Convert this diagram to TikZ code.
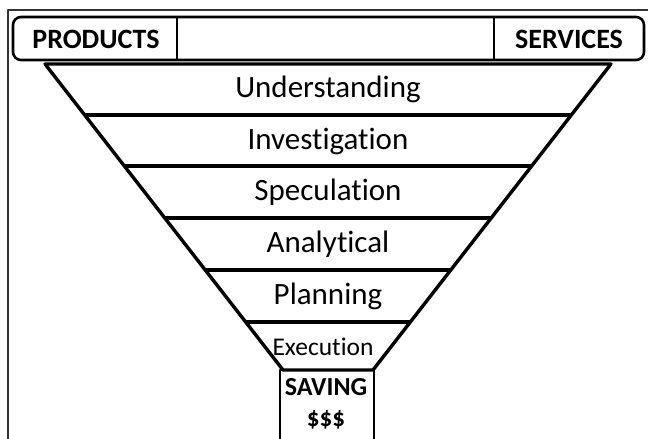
\documentclass[tikz,border=0pt]{standalone}
\usepackage{fontspec}
\setmainfont{Carlito}[Ligatures=NoCommon]
\usepackage{tikz}
\usetikzlibrary{calc}

\begin{document}
\begin{tikzpicture}[x=1pt, y=-1pt, line join=round, every node/.style={inner sep=0pt}, band/.style={line width=3.4pt}, bar/.style={draw,line width=2.6pt,rounded corners=8pt}, level/.style={font=\fontsize{31}{31}\selectfont}, small/.style={font=\fontsize{25.5}{25.5}\selectfont}, head/.style={font=\bfseries\fontsize{28}{28}\selectfont}]
\useasboundingbox (0,0) rectangle (648,439);
% frame on top and left
\draw[line width=1.3pt,black!80] (8,439) -- (8,10) -- (648,10);
% header bar
\draw[bar] (13,17) rectangle (644,60);
\coordinate (d1) at (177,17); \coordinate (d1b) at (177,60);
\coordinate (d2) at (494,17); \coordinate (d2b) at (494,60);
\draw[line width=2.2pt] (d1)--(d1b); \draw[line width=2.2pt] (d2)--(d2b);
\node[head] (products) at (96,39) {PRODUCTS};
\node[head] (services) at (569,39) {SERVICES};
% funnel
\coordinate (tl) at (45,64); \coordinate (tr) at (611,64);
\coordinate (bl) at (283,370); \coordinate (br) at (373,370);
\draw[band] (tl)--(tr)--(br)--(bl)--cycle;
\foreach \y in {115,166,218,270,322}
  \draw[band] ($(tl)!{(\y-64)/306}!(bl)$) -- ($(tr)!{(\y-64)/306}!(br)$);
\node[level] (under) at (328,89) {Understanding};
\node[level] (invest) at (328,141) {Investigation};
\node[level] (spec) at (328,192) {Speculation};
\node[level] (anal) at (328,244) {Analytical};
\node[level] (plan) at (328,296) {Planning};
\node[small] (exec) at (323,347) {Execution};
% saving box
\draw[line width=2.6pt] (280,445) -- (280,370) -- (374,370) -- (374,445);
\node[head,font=\bfseries\fontsize{26}{26}\selectfont] (saving) at (326,387) {SAVING};
\node[head,font=\bfseries\fontsize{25}{25}\selectfont] (money) at (326,420) {\$\$\$};
\end{tikzpicture}
\end{document}
